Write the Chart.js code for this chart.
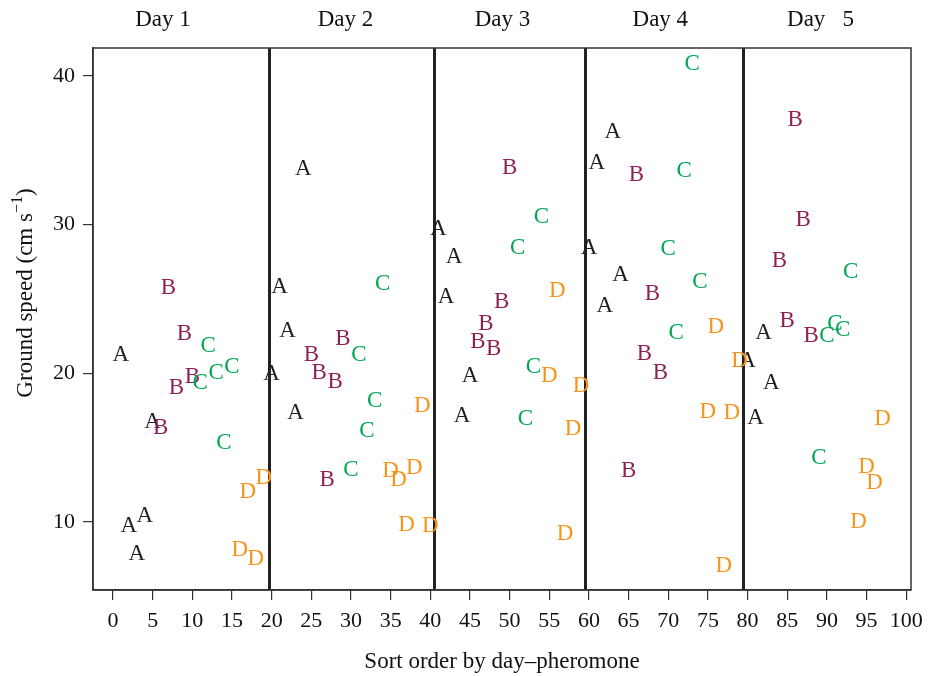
<!DOCTYPE html>
<html><head><meta charset="utf-8">
<script src="https://cdn.jsdelivr.net/npm/chart.js@4/dist/chart.umd.min.js"></script>
<style>html,body{margin:0;padding:0;background:#fff}#wrap{width:938px;height:676px}</style>
</head><body><div id="wrap"><canvas id="c" width="938" height="676"></canvas></div>
<script>
// Sort order (x) and ground speed (y) per pheromone group
const aX = [1,2,3,4,5, 20,21,22,23,24, 41,42,43,44,45, 60,61,62,63,64, 80,81,82,83];
const aY = [21.3,9.8,7.9,10.5,16.8, 20.0,25.9,22.9,17.4,33.8, 29.8,25.2,27.9,17.2,19.9, 28.5,34.2,24.6,36.3,26.7, 20.9,17.1,22.8,19.4];
const bX = [6,7,8,9,10, 25,26,27,28,29, 46,47,48,49,50, 65,66,67,68,69, 84,85,86,87,88];
const bY = [16.4,25.8,19.1,22.7,19.8, 21.3,20.1,12.9,19.5,22.4, 22.2,23.4,21.7,24.9,33.9, 13.5,33.4,21.4,25.4,20.1, 27.6,23.6,37.1,30.4,22.6];
const cX = [11,12,13,14,15, 30,31,32,33,34, 51,52,53,54, 70,71,72,73,74, 89,90,91,92,93];
const cY = [19.4,21.9,20.1,15.4,20.5, 13.6,21.3,16.2,18.2,26.1, 28.5,17.0,20.5,30.6, 28.4,22.8,33.7,40.9,26.2, 14.4,22.6,23.4,23.0,26.9];
const dX = [16,17,18,19, 35,36,37,38,39,40, 55,56,57,58,59, 75,76,77,78,79, 94,95,96,97];
const dY = [8.2,12.1,7.6,13.0, 13.5,12.9,9.9,13.7,17.9,9.8, 19.9,25.6,9.3,16.3,19.2, 17.5,23.2,7.1,17.4,20.9, 10.1,13.8,12.7,17.0];
const groupLetters = ['A','B','C','D'];
const groupColors = ['#231f20','#8e2157','#00a651','#f7941d'];
const dayLabels = ['Day 1','Day 2','Day 3','Day 4','Day   5'];
const dayLabelX = [6.3, 29.3, 49.1, 69.0, 89.2];
const daySeparators = [19.7, 40.5, 59.5, 79.4];
const xTicks = [0,5,10,15,20,25,30,35,40,45,50,55,60,65,70,75,80,85,90,95,100];
const yTicks = [10,20,30,40];

const SERIF = '"Liberation Serif", "Times New Roman", serif';
const toPts = (xs, ys) => xs.map((x,i)=>({x:x, y:ys[i]}));
const series = [[aX,aY],[bX,bY],[cX,cY],[dX,dY]];

const letterPlugin = {
  id: 'letters',
  afterDatasetsDraw(chart) {
    const ctx = chart.ctx;
    const ca = chart.chartArea;
    const xs = chart.scales.x, ys = chart.scales.y;
    ctx.save();
    // separators
    ctx.strokeStyle = '#222';
    ctx.lineWidth = 3;
    daySeparators.forEach(v => {
      const px = Math.round(xs.getPixelForValue(v)) + 0.5;
      ctx.beginPath(); ctx.moveTo(px, ca.top); ctx.lineTo(px, ca.bottom); ctx.stroke();
    });
    // frame
    ctx.lineWidth = 1.5;
    ctx.strokeStyle = '#333';
    ctx.strokeRect(ca.left, ca.top, ca.right - ca.left, ca.bottom - ca.top);
    // letters
    ctx.font = '23px ' + SERIF;
    ctx.textAlign = 'center';
    ctx.textBaseline = 'middle';
    chart.data.datasets.forEach((ds, di) => {
      const meta = chart.getDatasetMeta(di);
      ctx.fillStyle = groupColors[di];
      meta.data.forEach(el => { ctx.fillText(groupLetters[di], el.x, el.y + 1); });
    });
    // day labels
    ctx.fillStyle = '#111';
    ctx.font = '23px ' + SERIF;
    dayLabels.forEach((t, i) => { ctx.fillText(t, xs.getPixelForValue(dayLabelX[i]), 20); });
    // y title with superscript
    ctx.translate(26, (ca.top + ca.bottom) / 2 - 26);
    ctx.rotate(-Math.PI / 2);
    const main = 'Ground speed (cm s';
    const sup = '\u22121';
    ctx.font = '23px ' + SERIF; const w1 = ctx.measureText(main).width;
    ctx.font = '16px ' + SERIF; const w2 = ctx.measureText(sup).width;
    ctx.font = '23px ' + SERIF; const w3 = ctx.measureText(')').width;
    const total = w1 + w2 + w3;
    let sx = -total / 2;
    ctx.textAlign = 'left';
    ctx.fillText(main, sx, 0); sx += w1;
    ctx.font = '16px ' + SERIF; ctx.fillText(sup, sx, -8); sx += w2;
    ctx.font = '23px ' + SERIF; ctx.fillText(')', sx, 0);
    ctx.restore();
  }
};

new Chart(document.getElementById('c'), {
  type: 'scatter',
  data: {
    datasets: series.map((s, i) => ({
      label: groupLetters[i],
      data: toPts(s[0], s[1]),
      pointRadius: 0,
      pointHoverRadius: 0,
      backgroundColor: groupColors[i],
      borderColor: groupColors[i]
    }))
  },
  options: {
    responsive: false,
    animation: false,
    events: [],
    layout: { padding: { top: 48, right: 27, left: 0, bottom: 0 } },
    plugins: { legend: { display: false }, tooltip: { enabled: false } },
    scales: {
      x: {
        type: 'linear',
        min: -2.52, max: 100.6,
        afterBuildTicks: s => { s.ticks = xTicks.map(v => ({ value: v })); },
        afterFit: s => { s.height = 86; },
        grid: { drawOnChartArea: false, drawTicks: true, tickLength: 10, color: '#333', lineWidth: 1.2 },
        border: { display: true, color: '#333', width: 1.5 },
        ticks: { color: '#111', font: { family: SERIF, size: 22 }, padding: 8, maxRotation: 0, autoSkip: false },
        title: { display: true, text: 'Sort order by day\u2013pheromone', color: '#111', font: { family: SERIF, size: 23 }, padding: { top: 0, bottom: 0 } }
      },
      y: {
        type: 'linear',
        min: 5.43, max: 41.88,
        afterBuildTicks: s => { s.ticks = yTicks.map(v => ({ value: v })); },
        afterFit: s => { s.width = 93; },
        grid: { drawOnChartArea: false, drawTicks: true, tickLength: 10, color: '#333', lineWidth: 1.2 },
        border: { display: true, color: '#333', width: 1.5 },
        ticks: { color: '#111', font: { family: SERIF, size: 22 }, padding: 8 }
      }
    }
  },
  plugins: [letterPlugin]
});
</script></body></html>
